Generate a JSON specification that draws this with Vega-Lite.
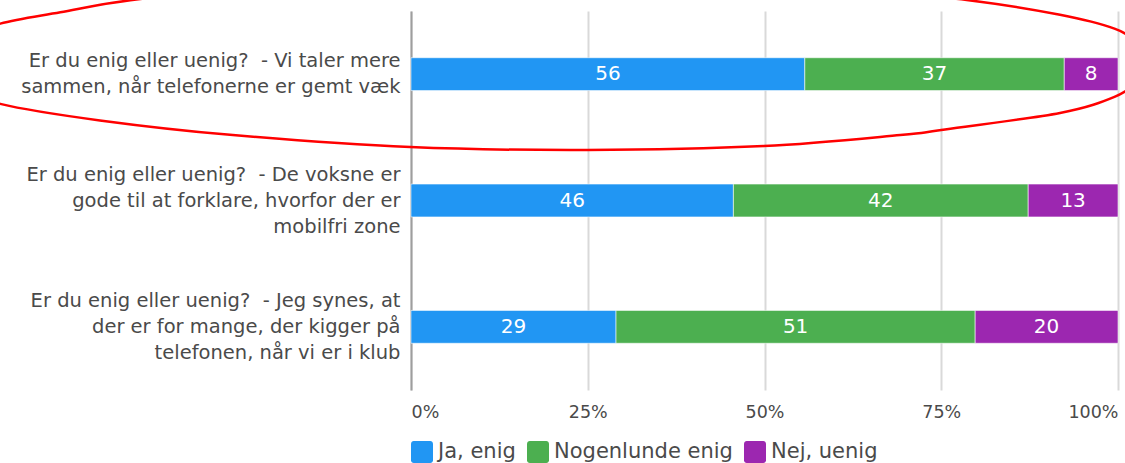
{
  "$schema": "https://vega.github.io/schema/vega-lite/v6.json",
  "width": 707,
  "height": 379,
  "autosize": {"type": "none"},
  "padding": {"left": 411, "top": 11, "right": 7, "bottom": 73},
  "config": {"font": "DejaVu Sans", "view": {"stroke": null}},
  "datasets": {
    "bars": [
      {"q": "Er du enig eller uenig?\u00a0 - Vi taler mere\nsammen, når telefonerne er gemt væk", "svar": "Ja, enig", "k": 0, "value": 55.7},
      {"q": "Er du enig eller uenig?\u00a0 - Vi taler mere\nsammen, når telefonerne er gemt væk", "svar": "Nogenlunde enig", "k": 1, "value": 36.7},
      {"q": "Er du enig eller uenig?\u00a0 - Vi taler mere\nsammen, når telefonerne er gemt væk", "svar": "Nej, uenig", "k": 2, "value": 7.6},
      {"q": "Er du enig eller uenig?\u00a0 - De voksne er\ngode til at forklare, hvorfor der er\nmobilfri zone\u00a0", "svar": "Ja, enig", "k": 0, "value": 45.6},
      {"q": "Er du enig eller uenig?\u00a0 - De voksne er\ngode til at forklare, hvorfor der er\nmobilfri zone\u00a0", "svar": "Nogenlunde enig", "k": 1, "value": 41.7},
      {"q": "Er du enig eller uenig?\u00a0 - De voksne er\ngode til at forklare, hvorfor der er\nmobilfri zone\u00a0", "svar": "Nej, uenig", "k": 2, "value": 12.7},
      {"q": "Er du enig eller uenig?\u00a0 - Jeg synes, at\nder er for mange, der kigger på\ntelefonen, når vi er i klub", "svar": "Ja, enig", "k": 0, "value": 29.0},
      {"q": "Er du enig eller uenig?\u00a0 - Jeg synes, at\nder er for mange, der kigger på\ntelefonen, når vi er i klub", "svar": "Nogenlunde enig", "k": 1, "value": 50.8},
      {"q": "Er du enig eller uenig?\u00a0 - Jeg synes, at\nder er for mange, der kigger på\ntelefonen, når vi er i klub", "svar": "Nej, uenig", "k": 2, "value": 20.2}
    ],
    "ellipse": [
      {"i": 0, "ex": -0.666, "ey": 0.412},
      {"i": 1, "ex": -0.638, "ey": 0.235},
      {"i": 2, "ex": -0.581, "ey": 0.100},
      {"i": 3, "ex": -0.496, "ey": 0.010},
      {"i": 4, "ex": -0.397, "ey": -0.085},
      {"i": 5, "ex": -0.228, "ey": -0.182},
      {"i": 6, "ex": -0.016, "ey": -0.245},
      {"i": 7, "ex": 0.197, "ey": -0.269},
      {"i": 8, "ex": 0.409, "ey": -0.245},
      {"i": 9, "ex": 0.621, "ey": -0.174},
      {"i": 10, "ex": 0.786, "ey": -0.087},
      {"i": 11, "ex": 0.918, "ey": 0.030},
      {"i": 12, "ex": 0.995, "ey": 0.140},
      {"i": 13, "ex": 1.025, "ey": 0.250},
      {"i": 14, "ex": 1.038, "ey": 0.404},
      {"i": 15, "ex": 1.025, "ey": 0.560},
      {"i": 16, "ex": 0.995, "ey": 0.680},
      {"i": 17, "ex": 0.918, "ey": 0.807},
      {"i": 18, "ex": 0.750, "ey": 0.942},
      {"i": 19, "ex": 0.692, "ey": 0.982},
      {"i": 20, "ex": 0.499, "ey": 1.069},
      {"i": 21, "ex": 0.249, "ey": 1.100},
      {"i": 22, "ex": -0.001, "ey": 1.077},
      {"i": 23, "ex": -0.252, "ey": 0.982},
      {"i": 24, "ex": -0.440, "ey": 0.866},
      {"i": 25, "ex": -0.581, "ey": 0.735},
      {"i": 26, "ex": -0.638, "ey": 0.594}
    ]
  },
  "layer": [
    {
      "data": {"name": "bars"},
      "layer": [
        {
          "mark": {"type": "bar", "stroke": "#ffffff", "strokeWidth": 0.8, "strokeOpacity": 0.7},
          "encoding": {
            "y": {
              "field": "q", "type": "nominal", "sort": null,
              "scale": {"paddingInner": 0.74, "paddingOuter": 0.37},
              "axis": {
                "title": null, "ticks": false, "grid": false,
                "domainColor": "#9e9e9e", "domainWidth": 2,
                "labelExpr": "split(datum.label, '\\n')",
                "labelFont": "DejaVu Sans",
                "labelFontSize": 19.5, "labelColor": "#4a4a4a", "labelPadding": 11,
                "labelLimit": 0, "labelLineHeight": 26, "labelAlign": "right", "labelBaseline": "middle",
                "labelOffset": {"condition": {"test": "indexof(datum.label, 'mobilfri') >= 0 || indexof(datum.label, 'klub') >= 0", "value": -26}, "value": -13}
              }
            },
            "x": {
              "field": "value", "type": "quantitative", "stack": "normalize",
              "scale": {"domain": [0, 1], "nice": false, "zero": false},
              "axis": {
                "title": null, "values": [0, 0.25, 0.5, 0.75, 1], "format": "%",
                "domain": false, "ticks": false, "grid": true, "gridColor": "#d9d9d9", "gridWidth": 2,
                "labelFontSize": 17.5, "labelColor": "#4a4a4a", "labelFlush": true, "labelPadding": 13
              }
            },
            "color": {
              "field": "svar", "type": "nominal",
              "scale": {"domain": ["Ja, enig", "Nogenlunde enig", "Nej, uenig"], "range": ["#2196F3", "#4CAF50", "#9C27B0"]},
              "legend": {
                "title": null, "orient": "bottom", "direction": "horizontal",
                "symbolType": "M-0.75,-1H0.75A0.25,0.25 0 0 1 1,-0.75V0.75A0.25,0.25 0 0 1 0.75,1H-0.75A0.25,0.25 0 0 1 -1,0.75V-0.75A0.25,0.25 0 0 1 -0.75,-1Z",
                "symbolSize": 484, "symbolStrokeWidth": 0, "labelFontSize": 21, "labelColor": "#4a4a4a",
                "labelLimit": 0, "labelOffset": 5, "columnPadding": 11, "offset": 20
              }
            },
            "order": {"field": "k", "type": "quantitative"}
          }
        },
        {
          "transform": [
            {"stack": "value", "groupby": ["q"], "sort": [{"field": "k", "order": "ascending"}], "offset": "normalize", "as": ["s0", "s1"]},
            {"fold": ["s0", "s1"], "as": ["edge", "pos"]},
            {"aggregate": [{"op": "mean", "field": "pos", "as": "mid"}], "groupby": ["q", "svar", "k", "value"]}
          ],
          "mark": {"type": "text", "color": "#ffffff", "fontSize": 20, "align": "center", "baseline": "middle"},
          "encoding": {
            "y": {"field": "q", "type": "nominal", "sort": null},
            "x": {"field": "mid", "type": "quantitative", "scale": {"domain": [0, 1], "nice": false, "zero": false}},
            "text": {"field": "value", "type": "quantitative", "format": ".0f"}
          }
        }
      ]
    },
    {
      "data": {"name": "ellipse"},
      "mark": {"type": "line", "interpolate": "cardinal-closed", "color": "#ff0000", "strokeWidth": 2.5, "clip": false},
      "encoding": {
        "x": {"field": "ex", "type": "quantitative", "scale": {"domain": [0, 1], "nice": false, "zero": false}},
        "y": {"field": "ey", "type": "quantitative", "scale": {"domain": [0, 3], "reverse": true, "nice": false, "zero": false}, "axis": null},
        "order": {"field": "i", "type": "quantitative"}
      }
    }
  ],
  "resolve": {"scale": {"y": "independent"}}
}
